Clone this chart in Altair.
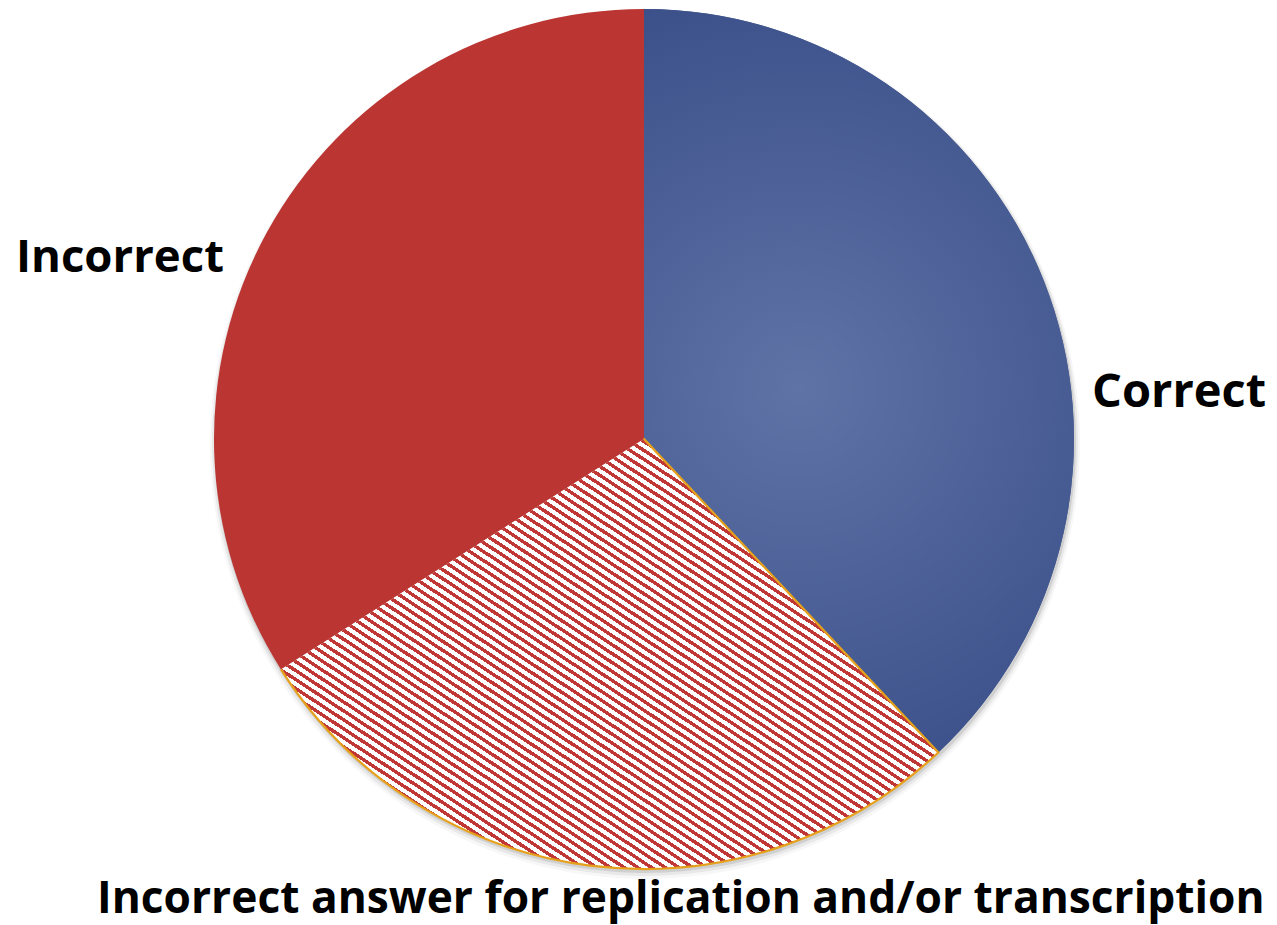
import math
import altair as alt
import pandas as pd

# Share of answers in each category (percent)
labels = ["Correct", "Incorrect answer for replication and/or transcription", "Incorrect"]
shares = [38, 28, 34]
slice_order = [0, 1, 2]

df = pd.DataFrame({"label": labels, "share": shares, "idx": slice_order})

W, H = 1277, 925
CX, CY, R = 644, 439, 430

RED = "#bb3633"
STRIPE_RED = "#c03836"
BLUE = "#4a5f98"
ORANGE = "#e6a11c"

# Bounding box of the hatched slice, used to lay the stripes out at a fixed
# on-screen angle (gradient coordinates are relative to that box)
a0 = 2 * math.pi * shares[0] / sum(shares)
a1 = 2 * math.pi * (shares[0] + shares[1]) / sum(shares)
box_w = R * math.sin(a0) - R * math.sin(a1)
box_h = R
angle = math.radians(45)
gx, gy = 1 / box_h, -1 / box_w          # gradient direction in box units
gx, gy = gx * math.sin(angle) * box_h, gy * math.cos(angle) * box_w
k = (gx - gy) / (gx * gx + gy * gy)
x2, y2 = gx * k, 1 + gy * k
span = box_w * math.sin(angle) + box_h * math.cos(angle)

period = 8.0
n_stripes = round(span / period)
red_frac = 0.45
stripe_stops = []
for i in range(n_stripes):
    s0 = i / n_stripes
    s1 = (i + red_frac) / n_stripes
    s2 = (i + 1) / n_stripes
    stripe_stops += [
        {"offset": s0, "color": STRIPE_RED},
        {"offset": s1, "color": STRIPE_RED},
        {"offset": s1, "color": "#ffffff"},
        {"offset": s2, "color": "#ffffff"},
    ]
stripes = {"gradient": "linear", "x1": 0, "y1": 1, "x2": x2, "y2": y2,
           "stops": stripe_stops}

# Soft radial shading on the blue slice
blue_shade = {"gradient": "radial", "x1": 0.42, "y1": 0.51, "r1": 0,
              "x2": 0.42, "y2": 0.51, "r2": 0.56,
              "stops": [{"offset": 0, "color": "#5f73a7"},
                        {"offset": 1, "color": "#3b5089"}]}

theta = alt.Theta("share:Q", stack=True)
order = alt.Order("idx:Q", sort="ascending")
base = alt.Chart(df).encode(theta=theta, order=order)

# Drop shadow under the pie
shadows = [
    base.mark_arc(radius=R + r, fill="#000000", opacity=op).encode(
        x=alt.value(CX + 1), y=alt.value(CY + dy))
    for r, dy, op in [(1, 3, 0.10), (3, 4, 0.06), (5, 5, 0.03)]
]

solid = base.mark_arc(radius=R).encode(
    x=alt.value(CX), y=alt.value(CY),
    color=alt.Color("label:N", legend=None,
                    scale=alt.Scale(domain=labels, range=[BLUE, "#ffffff", RED])),
)

hatch = base.mark_arc(radius=R, fill=stripes).encode(
    x=alt.value(CX), y=alt.value(CY),
    opacity=alt.condition(alt.datum.idx == 1, alt.value(1), alt.value(0)),
)

shade = base.mark_arc(radius=R, fill=blue_shade).encode(
    x=alt.value(CX), y=alt.value(CY),
    opacity=alt.condition(alt.datum.idx == 0, alt.value(1), alt.value(0)),
)

# Orange rim on the hatched slice: outer arc, then the edge next to the blue slice
arc_len = R * (a1 - a0)
rim = base.mark_arc(radius=R, filled=False, stroke=ORANGE, strokeWidth=2.2,
                    strokeDash=[arc_len + R, 4000]).encode(
    x=alt.value(CX), y=alt.value(CY),
    opacity=alt.condition(alt.datum.idx == 1, alt.value(1), alt.value(0)),
)

def label_layer(name, x, y, size):
    return alt.Chart(df).transform_filter(alt.datum.label == name).mark_text(
        align="left", baseline="alphabetic", font="Open Sans", fontWeight="bold",
        fontSize=size, color="#000000",
    ).encode(text="label:N", x=alt.value(x), y=alt.value(y))

texts = [
    label_layer("Correct", 1092, 407, 47),
    label_layer("Incorrect", 16, 272, 45.5),
    label_layer("Incorrect answer for replication and/or transcription", 97, 913, 44.3),
]

chart = alt.layer(*shadows, solid, hatch, shade, rim, *texts).properties(
    width=W, height=H, padding=0,
    autosize=alt.AutoSizeParams(type="none"),
).configure_view(stroke=None)

chart.save("out.html", embed_options={"renderer": "svg", "actions": False})
